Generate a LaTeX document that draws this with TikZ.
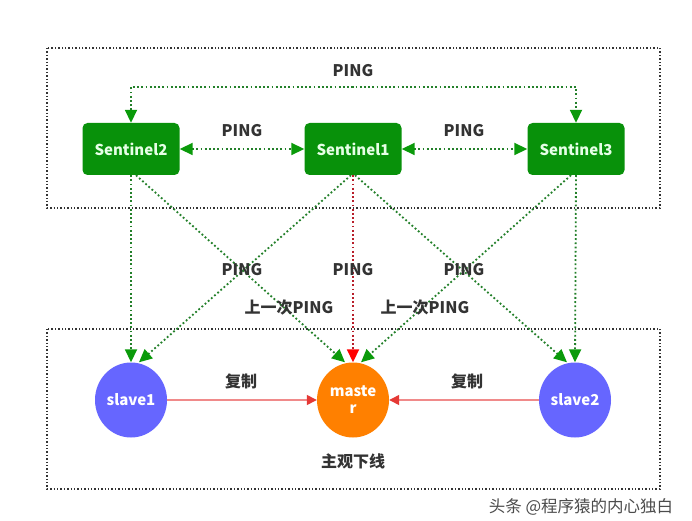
\documentclass[tikz,border=0pt]{standalone}
\usepackage{fontspec}
\setmainfont{Noto Sans CJK SC}
\usetikzlibrary{arrows.meta,shapes.geometric}
\definecolor{boxgreen}{HTML}{08910A}
\definecolor{linegreen}{HTML}{23802A}
\definecolor{headgreen}{HTML}{0A9A0A}
\definecolor{sentext}{HTML}{E6FFE6}
\definecolor{slaveblue}{HTML}{6666FF}
\definecolor{masterorange}{HTML}{FF8000}
\definecolor{copyline}{HTML}{F08A8A}
\definecolor{copyhead}{HTML}{E53935}
\definecolor{redline}{HTML}{B81E2A}
\definecolor{labeltext}{HTML}{333333}
\begin{document}
\begin{tikzpicture}[x=1pt,y=-1pt,
  frame/.style={draw=black!80, line width=1.4pt, dash pattern=on 1.4pt off 2pt},
  sentbox/.style={fill=boxgreen, rounded corners=5pt, minimum width=97pt, minimum height=52pt, inner sep=0pt,
    text=sentext, font=\fontsize{15}{17}\selectfont\bfseries},
  roundnode/.style={ellipse, minimum width=72pt, minimum height=75pt, inner sep=0pt, text=white,
    font=\fontsize{15}{17}\selectfont\bfseries, align=center},
  slave/.style={roundnode, fill=slaveblue},
  master/.style={roundnode, fill=masterorange},
  lbl/.style={text=labeltext, font=\fontsize{16}{18}\selectfont\bfseries, inner sep=0pt},
  gtip/.tip={Triangle[length=13pt,width=12pt,color=headgreen]},
  rtip/.tip={Triangle[length=13pt,width=12pt,color=red]},
  ctip/.tip={Triangle[length=10pt,width=10pt,color=copyhead]},
  ping/.style={draw=linegreen, line width=1.8pt, dash pattern=on 1.8pt off 2.4pt},
  redping/.style={draw=redline, line width=1.8pt, dash pattern=on 1.8pt off 2.4pt, -rtip},
  copyarrow/.style={draw=copyline, line width=1.3pt, -ctip}
]
\useasboundingbox (0,0) rectangle (692,521);
\fill[white] (0,0) rectangle (692,521);

\draw[frame] (47,48) rectangle (660,208);
\draw[frame] (47,329) rectangle (660,489);

\node[sentbox] (s2) at (131,149) {Sentinel2};
\node[sentbox] (s1) at (353,149) {Sentinel1};
\node[sentbox] (s3) at (576,149) {Sentinel3};

\node[slave] (sl1) at (131,400) {slave1};
\node[master] (m) at (353,400) {maste\\r};
\node[slave] (sl2) at (575,400) {slave2};

\coordinate (topmid) at (353,87);
\draw[ping, gtip-gtip] (s2.north) |- (topmid) -| (s3.north);
\draw[ping, gtip-gtip] (s2.east) -- (s1.west);
\draw[ping, gtip-gtip] (s1.east) -- (s3.west);

\draw[ping, -gtip] (s2.south) -- (sl1.north);
\draw[ping, -gtip] ([xshift=5pt]s2.south) -- ([xshift=-8pt]m.north);
\draw[ping, -gtip] ([xshift=-2pt]s1.south) -- ([xshift=8pt]sl1.north);
\draw[redping] (s1.south) -- (m.north);
\draw[ping, -gtip] ([xshift=2pt]s1.south) -- ([xshift=-8pt]sl2.north);
\draw[ping, -gtip] ([xshift=-5pt]s3.south) -- ([xshift=8pt]m.north);
\draw[ping, -gtip] (s3.south) -- (sl2.north);

\draw[copyarrow] (sl1.east) -- (m.west);
\draw[copyarrow] (sl2.west) -- (m.east);

\node[lbl] (ptop) at (353,71) {PING};
\node[lbl] (p21) at (242,131) {PING};
\node[lbl] (p13) at (464,131) {PING};
\node[lbl] (pa) at (242,270) {PING};
\node[lbl] (pb) at (353,270) {PING};
\node[lbl] (pc) at (464,270) {PING};
\node[lbl] (la) at (289,308) {上一次PING};
\node[lbl] (lb) at (425,308) {上一次PING};
\node[lbl] (ca) at (241,381) {复制};
\node[lbl] (cb) at (467,381) {复制};
\node[lbl] (down) at (353,461) {主观下线};
\node[text=black!70, font=\fontsize{16.5}{18}\selectfont, inner sep=0pt] (wm) at (581,507) {头条 @程序猿的内心独白};
\end{tikzpicture}
\end{document}
